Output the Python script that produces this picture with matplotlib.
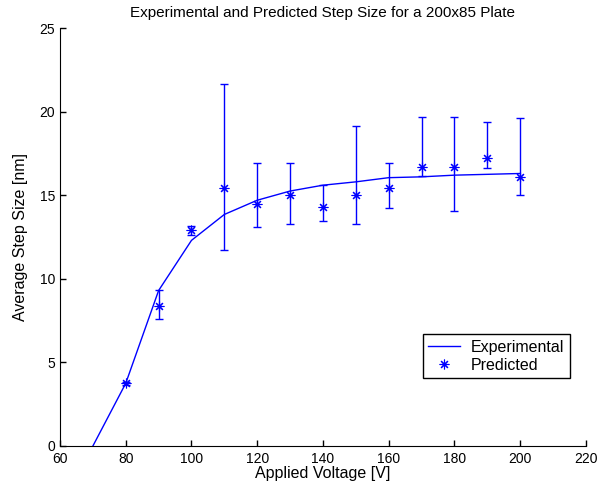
import numpy as np
import matplotlib
matplotlib.use("Agg")
import matplotlib.pyplot as plt

plt.rcParams['font.family'] = ['Liberation Sans', 'DejaVu Sans']

# experimental curve
exp_voltage = [70, 80, 90, 100, 110, 120, 130, 140, 150, 160, 170, 180, 190, 200]
exp_step = [0.0, 3.75, 9.3, 12.3, 13.85, 14.7, 15.25, 15.6, 15.8, 16.05, 16.1, 16.2, 16.25, 16.3]

# predicted points with error bars
pred_voltage = [80, 90, 100, 110, 120, 130, 140, 150, 160, 170, 180, 190, 200]
pred_step = [3.75, 8.4, 12.9, 15.45, 14.45, 15.0, 14.3, 15.0, 15.45, 16.7, 16.7, 17.2, 16.1]
pred_upper = [3.85, 9.33, 13.18, 21.65, 16.9, 16.9, 15.63, 19.16, 16.9, 19.68, 19.68, 19.38, 19.6]
pred_lower = [3.65, 7.58, 12.6, 11.72, 13.12, 13.25, 13.48, 13.26, 14.21, 16.17, 14.05, 16.6, 15.01]

pred_step = np.array(pred_step)
yerr = np.vstack([pred_step - np.array(pred_lower), np.array(pred_upper) - pred_step])

fig = plt.figure(figsize=(6.15, 4.92), dpi=100)
ax = fig.add_axes([0.0976, 0.0935, 0.855, 0.8495])

blue = '#0000ff'
ax.plot(exp_voltage, exp_step, color=blue, lw=1.0, label='Experimental')
ax.errorbar(pred_voltage, pred_step, yerr=yerr, fmt='none', ecolor=blue,
            elinewidth=1.0, capsize=3, capthick=1.0)
ax.plot(pred_voltage, pred_step, linestyle='none', marker=(8, 2, 0),
        markersize=7, color=blue, markeredgewidth=0.8, label='Predicted')

ax.set_xlim(60, 220)
ax.set_ylim(0, 25)
ax.set_xticks(np.arange(60, 221, 20))
ax.set_yticks(np.arange(0, 26, 5))
ax.spines['top'].set_visible(False)
ax.spines['right'].set_visible(False)
ax.tick_params(direction='in', length=4, labelsize=10, width=1)
ax.tick_params(axis='x', pad=4)

ax.set_xlabel('Applied Voltage [V]', fontsize=11.5, labelpad=0)
ax.set_ylabel('Average Step Size [nm]', fontsize=11.5, labelpad=8)
ax.set_title('Experimental and Predicted Step Size for a 200x85 Plate', fontsize=11, pad=8)

leg = ax.legend(loc='upper left', bbox_to_anchor=(0.69, 0.268), fancybox=False,
                edgecolor='black', framealpha=1, fontsize=11.5, handlelength=2.0,
                handletextpad=0.65, borderpad=0.35, labelspacing=0.2, borderaxespad=0)
leg.get_frame().set_linewidth(1.0)

fig.savefig('out.png', dpi=100)
